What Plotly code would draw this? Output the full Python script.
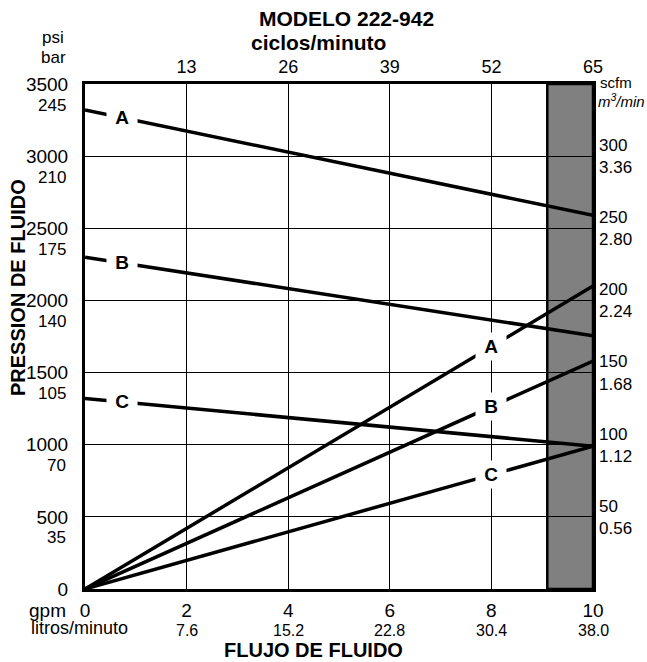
import plotly.graph_objects as go

# ---------------- data ----------------
gpm_ticks = [0, 2, 4, 6, 8, 10]
lpm_labels = ["", "7.6", "15.2", "22.8", "30.4", "38.0"]
psi_ticks = [0, 500, 1000, 1500, 2000, 2500, 3000, 3500]
bar_labels = ["", "35", "70", "105", "140", "175", "210", "245"]
cycle_ticks = [13, 26, 39, 52, 65]
scfm_ticks = [50, 100, 150, 200, 250, 300]
m3min_labels = ["0.56", "1.12", "1.68", "2.24", "2.80", "3.36"]

flow_x = [0, 10]
# fluid pressure lines (psi)
press_A = [3320, 2590]
press_B = [2300, 1755]
press_C = [1320, 990]
# air consumption lines (scfm)
air_A = [0, 210]
air_B = [0, 158]
air_C = [0, 99]

gray_zone = [9.1, 10]
press_label_x = 0.72
air_label_x = 8

FONT = "Liberation Sans, Arial, Helvetica, sans-serif"
W, H = 647, 662
L, R, T, B = 85, 593, 84, 589


def px(xp):
    return (xp - L) / (R - L)


def py(yp):
    return (B - yp) / (B - T)


fig = go.Figure()

for ys in (press_A, press_B, press_C):
    fig.add_trace(go.Scatter(x=flow_x, y=ys, mode="lines", xaxis="x", yaxis="y",
                             line=dict(color="black", width=3.5), showlegend=False,
                             hoverinfo="skip"))
for ys in (air_A, air_B, air_C):
    fig.add_trace(go.Scatter(x=flow_x, y=ys, mode="lines", xaxis="x", yaxis="y2",
                             line=dict(color="black", width=3.5), showlegend=False,
                             hoverinfo="skip"))
# invisible trace so the top (cycles) axis is drawn
fig.add_trace(go.Scatter(x=cycle_ticks, y=[psi_ticks[0]] * len(cycle_ticks), mode="markers",
                         xaxis="x2", yaxis="y", marker=dict(opacity=0, size=1),
                         showlegend=False, hoverinfo="skip"))

fig.add_shape(type="rect", xref="x", yref="y", x0=gray_zone[0], x1=gray_zone[1],
              y0=psi_ticks[0], y1=psi_ticks[-1], fillcolor="#808080",
              line=dict(color="black", width=2.5), layer="below")

annotations = []


def interp(ys, x):
    return ys[0] + (ys[1] - ys[0]) * (x - flow_x[0]) / (flow_x[1] - flow_x[0])


for name, ys in (("A", press_A), ("B", press_B), ("C", press_C)):
    annotations.append(dict(x=press_label_x, y=interp(ys, press_label_x), xref="x", yref="y",
                            text="<b>&nbsp;" + name + "&nbsp;</b>", showarrow=False, bgcolor="white",
                            borderpad=3, font=dict(family=FONT, size=19, color="black"),
                            xanchor="center", yanchor="middle"))
for name, ys in (("A", air_A), ("B", air_B), ("C", air_C)):
    annotations.append(dict(x=air_label_x, y=interp(ys, air_label_x), xref="x", yref="y2",
                            text="<b>&nbsp;" + name + "&nbsp;</b>", showarrow=False, bgcolor="white",
                            borderpad=3, font=dict(family=FONT, size=19, color="black"),
                            xanchor="center", yanchor="middle"))

# bar labels under psi ticks
for v, lab in zip(psi_ticks, bar_labels):
    if lab:
        annotations.append(dict(x=px(68), y=v, xref="paper", yref="y", text=lab,
                                showarrow=False, xanchor="right", yanchor="middle",
                                yshift=-21, font=dict(family=FONT, size=17, color="black")))
# litros/minuto labels under gpm ticks
for v, lab in zip(gpm_ticks, lpm_labels):
    if lab:
        annotations.append(dict(x=v, y=py(630), xref="x", yref="paper", text=lab,
                                showarrow=False, xanchor="center", yanchor="middle",
                                font=dict(family=FONT, size=16, color="black")))

texts = [
    ("<b>MODELO 222-942</b>", 346, 18, "center", 21),
    ("<b>ciclos/minuto</b>", 318, 43, "center", 21),
    ("psi", 53, 38, "center", 17),
    ("bar", 53, 58, "center", 17),
    ("gpm", 27, 610, "left", 19),
    ("litros/minuto", 29, 628, "left", 18),
    ("scfm", 598, 82, "left", 15),
    ("<i>m<sup>3</sup>/min</i>", 596, 100, "left", 15),
    ("<b>FLUJO DE FLUIDO</b>", 313, 650, "center", 20),
]
for t, xp, yp, anc, sz in texts:
    annotations.append(dict(x=px(xp), y=py(yp), xref="paper", yref="paper", text=t,
                            showarrow=False, xanchor=anc, yanchor="middle",
                            font=dict(family=FONT, size=sz, color="black")))
annotations.append(dict(x=px(18), y=py(288), xref="paper", yref="paper",
                        text="<b>PRESSION DE FLUIDO</b>", textangle=-90, showarrow=False,
                        xanchor="center", yanchor="middle",
                        font=dict(family=FONT, size=20, color="black")))

fig.update_layout(
    width=W, height=H, autosize=False,
    margin=dict(l=L, r=W - R, t=T, b=H - B, pad=0),
    paper_bgcolor="white", plot_bgcolor="white",
    font=dict(family=FONT, color="black"),
    showlegend=False,
    annotations=annotations,
    xaxis=dict(range=[0, 10], tickvals=gpm_ticks, ticktext=[str(v) for v in gpm_ticks],
               showgrid=True, gridcolor="black", gridwidth=1, zeroline=False,
               showline=True, linecolor="black", linewidth=3, mirror=True,
               ticks="", ticklabelstandoff=2, tickfont=dict(family=FONT, size=19)),
    xaxis2=dict(range=[0, 65], overlaying="x", side="top", tickvals=cycle_ticks,
                ticktext=[str(v) for v in cycle_ticks], showgrid=False, zeroline=False,
                showline=False, ticks="", ticklabelstandoff=6,
                tickfont=dict(family=FONT, size=18)),
    yaxis=dict(range=[0, 3500], tickvals=psi_ticks, ticktext=[str(v) for v in psi_ticks],
               showgrid=True, gridcolor="black", gridwidth=1, zeroline=False,
               showline=True, linecolor="black", linewidth=3, mirror=True,
               ticks="", ticklabelstandoff=10, tickfont=dict(family=FONT, size=19)),
    yaxis2=dict(range=[0, 350], overlaying="y", side="right", tickvals=scfm_ticks,
                ticktext=[f"{s}<br>{m}" for s, m in zip(scfm_ticks, m3min_labels)],
                showgrid=False, zeroline=False, showline=False, ticks="",
                ticklabelstandoff=5, tickfont=dict(family=FONT, size=17)),
)

fig.write_html("out.html", config={"displayModeBar": False},
               post_script="document.body.style.margin='0';")
